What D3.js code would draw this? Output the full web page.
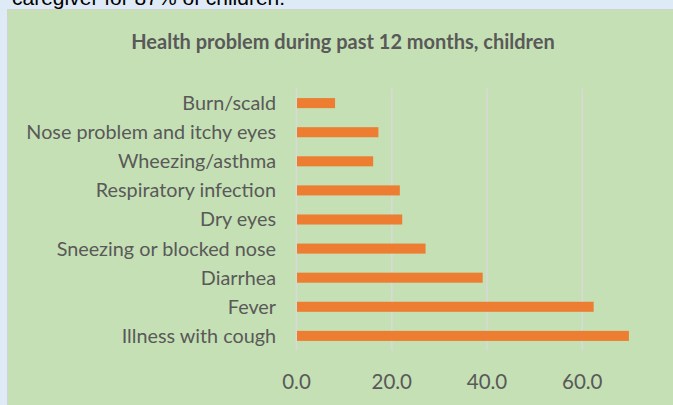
<!DOCTYPE html>
<html>
<head>
<meta charset="utf-8">
<script src="https://cdn.jsdelivr.net/npm/d3@7"></script>
<style>
  html, body { margin: 0; padding: 0; background: #deeaf6; }
  #chart { width: 673px; height: 405px; }
</style>
</head>
<body>
<div id="chart"></div>
<script>
const categories = [
    "Burn/scald",
    "Nose problem and itchy eyes",
    "Wheezing/asthma",
    "Respiratory infection",
    "Dry eyes",
    "Sneezing or blocked nose",
    "Diarrhea",
    "Fever",
    "Illness with cough"
];
const values = [8.2, 17.3, 16.2, 21.8, 22.3, 27.2, 39.2, 62.5, 69.9];
const xTicks = [0, 20, 40, 60];
const chartTitle = "Health problem during past 12 months, children";
const captionText = "caregiver for 87% of children.";

const width = 673;
const height = 405;
const plot = { left: 296, right: 677, top: 88.5, bottom: 350.5 };
const textColor = "#595959";

const svg = d3.select("#chart").append("svg")
    .attr("width", width)
    .attr("height", height)
    .attr("viewBox", [0, 0, width, height]);

// sentence from the page above the chart, cut by the crop
svg.append("text")
    .attr("x", 12)
    .attr("y", 5)
    .attr("font-family", "Liberation Sans, Arial, sans-serif")
    .attr("font-size", 21)
    .attr("fill", "#000")
    .text(captionText);

// chart box
svg.append("rect")
    .attr("x", 7.5)
    .attr("y", 9.5)
    .attr("width", width)
    .attr("height", height)
    .attr("fill", "#c5e0b4")
    .attr("stroke", "#d0d4cc")
    .attr("stroke-width", 1);

svg.append("text")
    .attr("x", 343)
    .attr("y", 49)
    .attr("text-anchor", "middle")
    .attr("font-family", "Lato, sans-serif")
    .attr("font-weight", "bold")
    .attr("font-size", 20)
    .attr("fill", textColor)
    .text(chartTitle);

const x = d3.scaleLinear()
    .domain([0, 80])
    .range([plot.left, plot.right]);

const y = d3.scaleBand()
    .domain(categories)
    .range([plot.top, plot.bottom])
    .paddingInner(0.655)
    .paddingOuter(0.33);

// gridlines + tick labels
const xAxis = g => g
    .attr("transform", `translate(0,${plot.bottom})`)
    .call(d3.axisBottom(x).tickValues(xTicks).tickFormat(d3.format(".1f"))
        .tickSize(-(plot.bottom - plot.top)).tickPadding(0))
    .call(g => g.select(".domain").remove())
    .call(g => g.selectAll(".tick line")
        .attr("stroke", "#d9d9d9")
        .attr("stroke-width", 1.5))
    .call(g => g.selectAll(".tick text")
        .attr("fill", textColor)
        .attr("font-family", "Lato, sans-serif")
        .attr("font-size", 20.5)
        .attr("y", 38)
        .attr("dy", 0));

svg.append("g").call(xAxis);

// category labels
const yAxis = g => g
    .attr("transform", `translate(${plot.left - 20},0)`)
    .call(d3.axisLeft(y).tickSize(0).tickPadding(0))
    .call(g => g.select(".domain").remove())
    .call(g => g.selectAll(".tick text")
        .attr("fill", textColor)
        .attr("font-family", "Lato, sans-serif")
        .attr("font-size", 19.8)
        .attr("dy", "0.35em"));

svg.append("g").call(yAxis);

svg.append("g")
    .selectAll("rect")
    .data(values)
    .join("rect")
    .attr("x", x(0) + 1)
    .attr("y", (d, i) => y(categories[i]))
    .attr("width", d => x(d) - x(0) - 1)
    .attr("height", y.bandwidth())
    .attr("fill", "#ed7d31");
</script>
</body>
</html>
